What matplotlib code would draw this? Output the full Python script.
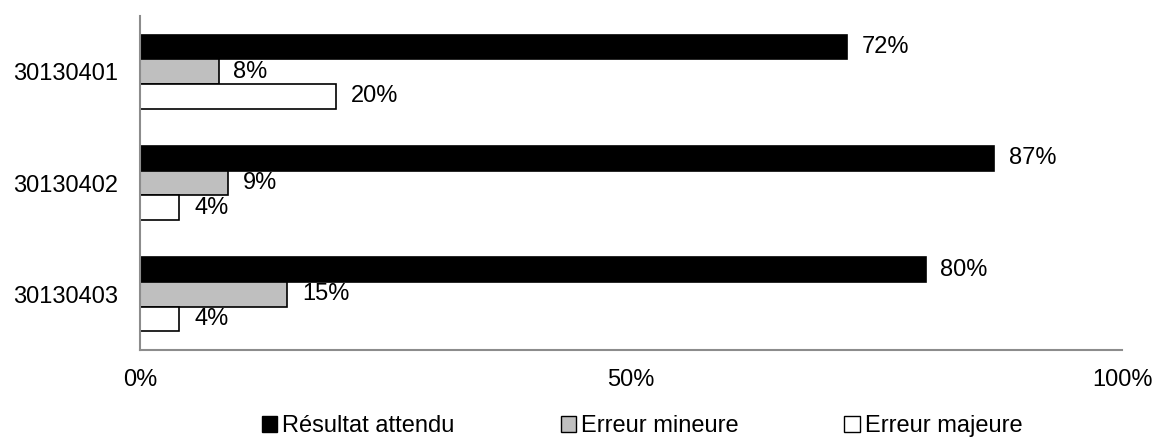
import matplotlib
matplotlib.use("Agg")
import matplotlib.pyplot as plt
import numpy as np

categories = ["30130401", "30130402", "30130403"]
series_names = ["Résultat attendu", "Erreur mineure", "Erreur majeure"]
resultat_attendu = [72, 87, 80]
erreur_mineure = [8, 9, 15]
erreur_majeure = [20, 4, 4]
x_ticks = [0, 50, 100]
x_tick_labels = ["0%", "50%", "100%"]

plt.rcParams["font.family"] = ["Liberation Sans", "DejaVu Sans"]
FS = 17

fig = plt.figure(figsize=(11.55, 4.37), dpi=100)
ax = fig.add_axes([140 / 1155, 1 - 350 / 437, (1122 - 140) / 1155, (350 - 16) / 437])

series = [resultat_attendu, erreur_mineure, erreur_majeure]
colors = ["#000000", "#bfbfbf", "#ffffff"]
n = len(categories)
band = 1.0
bar_h = band / 1.5 / 3
y_centers = np.arange(n)[::-1] + 0.5  # first category at top

for i, (vals, col, name) in enumerate(zip(series, colors, series_names)):
    ys = y_centers + bar_h - i * bar_h
    ax.barh(ys, vals, height=bar_h, color=col, edgecolor="#000000",
            linewidth=1.2, label=name)
    for y, v in zip(ys, vals):
        ax.text(v + 1.5, y, f"{v}%", va="center", ha="left", fontsize=FS)

ax.set_xlim(0, 100)
ax.set_ylim(0, n)
ax.set_yticks(y_centers)
ax.set_yticklabels(categories, fontsize=FS)
ax.set_xticks(x_ticks)
ax.set_xticklabels(x_tick_labels, fontsize=FS)
ax.tick_params(axis="both", length=0)
ax.tick_params(axis="x", pad=14)
ax.tick_params(axis="y", pad=16)
for s in ["top", "right"]:
    ax.spines[s].set_visible(False)
for s in ["left", "bottom"]:
    ax.spines[s].set_color("#8c8c8c")
    ax.spines[s].set_linewidth(1.5)

leg = fig.legend(loc="center", bbox_to_anchor=(642 / 1155, 1 - 426 / 437), ncol=3,
                 frameon=False, fontsize=FS, handlelength=0.65, handleheight=0.65,
                 handletextpad=0.2, columnspacing=4.5, borderpad=0)
for h in leg.legend_handles:
    h.set_linewidth(1.0)

fig.savefig("out.png", dpi=100)
